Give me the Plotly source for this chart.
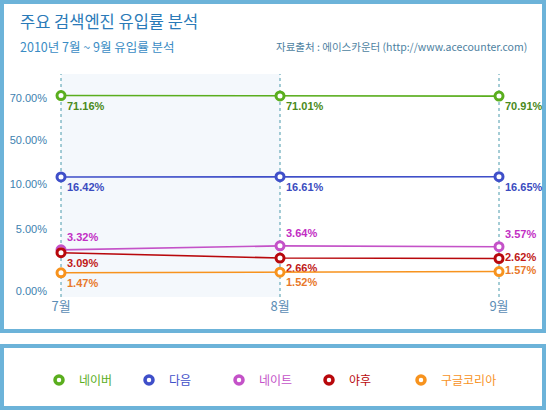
import numpy as np
import plotly.graph_objects as go

months = ["7월", "8월", "9월"]
engines = ["네이버", "다음", "네이트", "야후", "구글코리아"]
naver = [71.16, 71.01, 70.91]
daum = [16.42, 16.61, 16.65]
nate = [3.32, 3.64, 3.57]
yahoo = [3.09, 2.66, 2.62]
google = [1.47, 1.52, 1.57]

tick_vals = [0, 5, 10, 50, 70]
tick_text = ["0.00%", "5.00%", "10.00%", "50.00%", "70.00%"]

# the original axis is broken into uneven steps, so map values piecewise
tick_pos = [0, 62, 107, 151, 193]


def to_axis(v):
    v = np.asarray(v, dtype=float)
    out = np.interp(v, tick_vals, tick_pos)
    slope = (tick_pos[-1] - tick_pos[-2]) / (tick_vals[-1] - tick_vals[-2])
    return np.where(v > tick_vals[-1], tick_pos[-1] + (v - tick_vals[-1]) * slope, out)


line_colors = ["#5aae1e", "#3f4fc9", "#c452c8", "#b8080c", "#f7931e"]
text_colors = ["#4a8a20", "#3a4cc0", "#c22ec4", "#c01818", "#e8782a"]
positions = [
    ["bottom right"] * 3,
    ["bottom right"] * 3,
    ["top right"] * 3,
    ["bottom right", "bottom right", "middle right"],
    ["bottom right", "bottom right", "middle right"],
]
series = [naver, daum, nate, yahoo, google]

W, H = 546, 410


def px(x):
    return x / W


def py(y):
    return 1 - y / H


fig = go.Figure()

for name, vals, lc, tc, pos in zip(engines, series, line_colors, text_colors, positions):
    fig.add_trace(go.Scatter(
        x=months, y=to_axis(vals), mode="lines+markers+text",
        line=dict(color=lc, width=1.6),
        marker=dict(size=8, color="white", line=dict(color=lc, width=3)),
        text=["%.2f%%" % v for v in vals], textposition=pos,
        textfont=dict(family="Liberation Sans", size=11, color=tc, weight="bold"),
        cliponaxis=False, showlegend=False, hoverinfo="skip",
    ))

# legend entries: ring markers only; the last one sits in its own legend
# so its long label is not clipped by the fixed entry width
for i, (name, lc) in enumerate(zip(engines, line_colors)):
    fig.add_trace(go.Scatter(
        x=[None], y=[None], mode="markers",
        marker=dict(size=8, color="white", line=dict(color=lc, width=3.5)),
        name='<span style="color:%s">%s</span>' % (lc, name),
        legend="legend2" if i == len(engines) - 1 else "legend",
    ))

shapes = [
    dict(type="rect", xref="paper", yref="paper", x0=px(2), x1=px(544), y0=py(331), y1=py(2),
         line=dict(color="#6cb3d9", width=4), fillcolor="rgba(0,0,0,0)", layer="below"),
    dict(type="rect", xref="paper", yref="paper", x0=px(2), x1=px(544), y0=py(408), y1=py(346),
         line=dict(color="#6cb3d9", width=4), fillcolor="rgba(0,0,0,0)", layer="below"),
    dict(type="rect", xref="x", yref="y domain", x0=0, x1=1, y0=0, y1=1,
         line=dict(width=0), fillcolor="#f4f8fc", layer="below"),
]
for i in range(len(months)):
    shapes.append(dict(type="line", xref="x", yref="y domain", x0=i, x1=i, y0=0, y1=1,
                       line=dict(color="#4a9aac", width=1, dash="dot"), layer="below"))

legend_style = dict(
    orientation="h", y=py(380), xanchor="left", yanchor="middle",
    itemwidth=30, font=dict(family="Noto Sans CJK KR", size=12),
    bgcolor="rgba(0,0,0,0)",
)

fig.update_layout(
    width=W, height=H, autosize=False,
    margin=dict(l=0, r=0, t=0, b=0),
    paper_bgcolor="white", plot_bgcolor="rgba(0,0,0,0)",
    font=dict(family="Noto Sans CJK KR"),
    shapes=shapes,
    xaxis=dict(
        type="category", domain=[px(48), 1],
        range=[-0.0594, 2.2146],
        showgrid=False, zeroline=False, showline=False, ticks="",
        tickfont=dict(family="Noto Sans CJK KR", size=13, color="#5b8db5"),
    ),
    yaxis=dict(
        domain=[py(297), py(74)], range=[-6, 217],
        tickvals=tick_pos, ticktext=tick_text,
        showgrid=False, zeroline=False, showline=False, ticks="",
        tickfont=dict(family="Liberation Sans", size=11, color="#3d7fb0"),
    ),
    legend=dict(x=px(39), entrywidth=45, entrywidthmode="pixels", **legend_style),
    legend2=dict(x=px(401), **legend_style),
    annotations=[
        dict(text="주요 검색엔진 유입률 분석", x=px(18), y=py(21), xref="paper", yref="paper",
             xanchor="left", yanchor="middle", showarrow=False,
             font=dict(family="Noto Sans CJK KR", size=16.5, color="#2a7ab8")),
        dict(text="2010년 7월 ~ 9월 유입률 분석", x=px(18), y=py(47), xref="paper", yref="paper",
             xanchor="left", yanchor="middle", showarrow=False,
             font=dict(family="Noto Sans CJK KR", size=12.5, color="#3a8cc4")),
        dict(text="자료출처 : 에이스카운터 (http://www.acecounter.com)", x=px(529), y=py(47),
             xref="paper", yref="paper", xanchor="right", yanchor="middle", showarrow=False,
             font=dict(family="Noto Sans CJK KR", size=10.5, color="#4d7f9f")),
    ],
)

# page body has a default margin; remove it so the figure fills the window
fig.write_html("out.html", config={"displayModeBar": False},
               post_script="document.body.style.margin='0';")
